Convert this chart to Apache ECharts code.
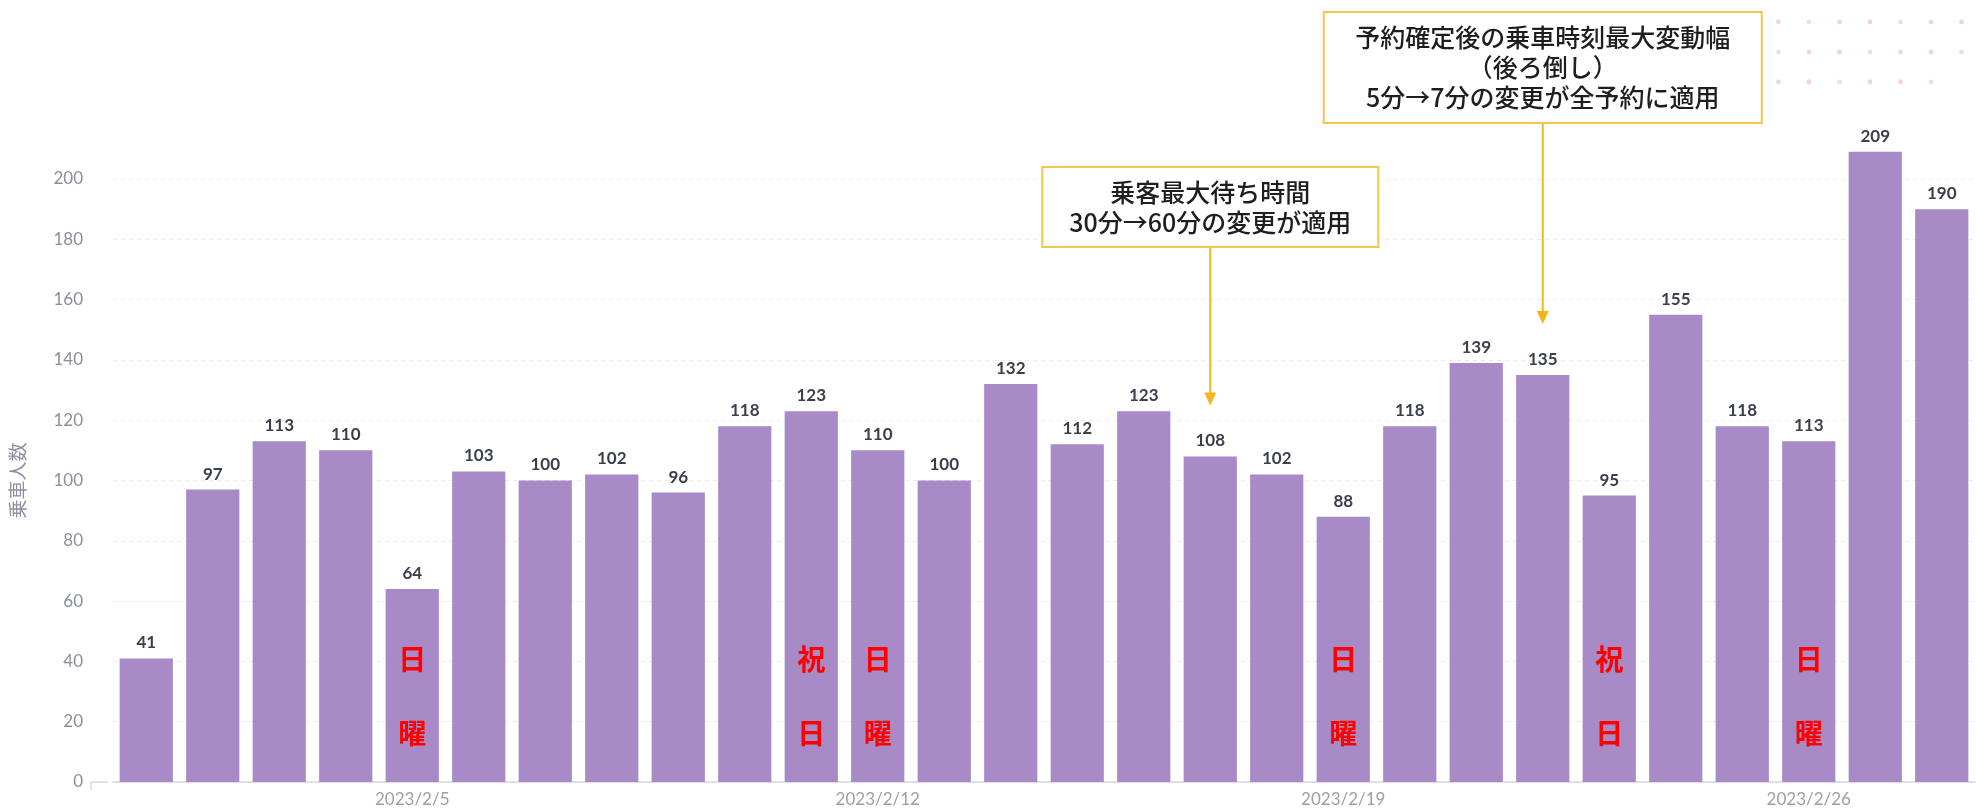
<!DOCTYPE html>
<html lang="ja">
<head>
<meta charset="utf-8">
<title>乗車人数</title>
<script src="https://cdn.jsdelivr.net/npm/echarts@6/dist/echarts.min.js"></script>
<style>
  html, body { margin: 0; padding: 0; background: #ffffff; }
  #chart { width: 1980px; height: 811px; }
</style>
</head>
<body>
<div id="chart"></div>
<script>
// Daily riders, February 2023
const categories = [
  '2023/2/1', '2023/2/2', '2023/2/3', '2023/2/4', '2023/2/5', '2023/2/6', '2023/2/7',
  '2023/2/8', '2023/2/9', '2023/2/10', '2023/2/11', '2023/2/12', '2023/2/13', '2023/2/14',
  '2023/2/15', '2023/2/16', '2023/2/17', '2023/2/18', '2023/2/19', '2023/2/20', '2023/2/21',
  '2023/2/22', '2023/2/23', '2023/2/24', '2023/2/25', '2023/2/26', '2023/2/27', '2023/2/28'
];
const riders = [
  41, 97, 113, 110, 64, 103, 100,
  102, 96, 118, 123, 110, 100, 132,
  112, 123, 108, 102, 88, 118, 139,
  135, 95, 155, 118, 113, 209, 190
];
// Axis labels shown only on these dates
const tickDates = ['2023/2/5', '2023/2/12', '2023/2/19', '2023/2/26'];

// Sundays and public holidays, marked in red inside the bar
const markDates = ['2023/2/5', '2023/2/11', '2023/2/12', '2023/2/19', '2023/2/23', '2023/2/26'];
const markTexts = ['日曜', '祝日', '日曜', '日曜', '祝日', '日曜'];

// Rule changes, pointed at the day they took effect
const noteDates = ['2023/2/17', '2023/2/22'];
const noteTexts = [
  ['乗客最大待ち時間', '30分→60分の変更が適用'],
  ['予約確定後の乗車時刻最大変動幅', '（後ろ倒し）', '5分→7分の変更が全予約に適用']
];

const chart = echarts.init(document.getElementById('chart'), null, { renderer: 'canvas' });

const NUM_FONT = 'Lato, "Noto Sans", sans-serif';
const JP_FONT = '"Noto Sans CJK JP", "Noto Sans", sans-serif';

const markData = categories.map(function (c) {
  const k = markDates.indexOf(c);
  if (k < 0) return '-';
  return { value: riders[categories.indexOf(c)], mark: markTexts[k] };
});

chart.setOption({
  animation: false,
  backgroundColor: '#ffffff',
  grid: { left: 108, right: 5, top: 179, bottom: 29, containLabel: false },
  xAxis: {
    type: 'category',
    data: categories,
    axisLine: { show: true, lineStyle: { color: '#d6d6de', width: 1.5 } },
    axisTick: { show: false },
    axisLabel: {
      interval: function (i, v) { return tickDates.indexOf(v) >= 0; },
      margin: 9,
      color: '#9c9ea9',
      fontFamily: NUM_FONT,
      fontSize: 17
    },
    splitLine: { show: false }
  },
  yAxis: {
    type: 'value',
    min: 0,
    max: 200,
    interval: 20,
    name: '乗車人数',
    nameLocation: 'middle',
    nameGap: 86,
    nameTextStyle: { color: '#8e91a0', fontFamily: JP_FONT, fontSize: 19 },
    axisLine: { show: false },
    axisTick: { show: false },
    axisLabel: { margin: 30, color: '#8b8e9d', fontFamily: NUM_FONT, fontSize: 17 },
    splitLine: { show: true, lineStyle: { color: '#e8e8ee', type: [4, 4], width: 1 } }
  },
  series: [
    {
      type: 'bar',
      data: riders,
      barCategoryGap: '20%',
      clip: false,
      itemStyle: { color: '#a78ac6' },
      label: {
        show: true,
        position: 'top',
        distance: 7,
        color: '#3b3f4c',
        fontFamily: NUM_FONT,
        fontWeight: 'bold',
        fontSize: 17
      },
      z: 2
    },
    {
      type: 'bar',
      data: markData,
      barGap: '-100%',
      barCategoryGap: '20%',
      clip: false,
      silent: true,
      itemStyle: { color: 'rgba(0,0,0,0)' },
      label: {
        show: true,
        position: 'insideBottom',
        distance: 12,
        formatter: function (p) {
          const t = p.data.mark;
          return '{m|' + t.charAt(0) + '}\n{m|' + t.charAt(1) + '}';
        },
        rich: {
          m: {
            color: '#ff0000',
            fontFamily: JP_FONT,
            fontWeight: 'bold',
            fontSize: 28,
            lineHeight: 74,
            align: 'center'
          }
        }
      },
      z: 3
    }
  ]
});

// Callout boxes with arrows down to the bar of the day
const noteBoxes = [
  { top: 167, width: 336, height: 80 },
  { top: 12, width: 438, height: 111 }
];
const ARROW = '#f5b61c';
const BOX_EDGE = '#f3c64b';

const graphics = [];

// dotted ornament in the upper-right corner
const dotColors = ['#eed6de', '#f1d3dc', '#ecdfe4'];
for (let r = 0; r < 3; r++) {
  const cols = r === 2 ? 7 : 8;
  for (let c = 0; c < cols; c++) {
    graphics.push({
      type: 'circle',
      shape: { cx: 1748 + c * 30.5, cy: 22 + r * 30, r: 2.4 },
      style: { fill: dotColors[(r + c) % 3] },
      z: 0, silent: true
    });
  }
}

noteDates.forEach(function (d, i) {
  const idx = categories.indexOf(d);
  const p = chart.convertToPixel({ seriesIndex: 0 }, [idx, riders[idx]]);
  const cx = p[0];
  const tipY = p[1] - 51;
  const b = noteBoxes[i];
  const bottom = b.top + b.height;
  graphics.push({
    type: 'line',
    shape: { x1: cx, y1: bottom, x2: cx, y2: tipY - 10 },
    style: { stroke: ARROW, lineWidth: 2 },
    z: 10
  });
  graphics.push({
    type: 'polygon',
    shape: { points: [[cx - 6, tipY - 13], [cx + 6, tipY - 13], [cx, tipY]] },
    style: { fill: ARROW },
    z: 10
  });
  graphics.push({
    type: 'rect',
    shape: { x: cx - b.width / 2, y: b.top, width: b.width, height: b.height },
    style: { fill: '#ffffff', stroke: BOX_EDGE, lineWidth: 2 },
    z: 11
  });
  graphics.push({
    type: 'text',
    x: cx,
    y: b.top + b.height / 2,
    style: {
      text: noteTexts[i].join('\n'),
      fill: '#1e1e1e',
      font: '500 25px ' + JP_FONT,
      lineHeight: 30,
      align: 'center',
      verticalAlign: 'middle'
    },
    z: 12
  });
});

// short lead-in of the baseline to the left of the first bar
const zero = chart.convertToPixel({ yAxisIndex: 0 }, 0);
graphics.push({
  type: 'line',
  shape: { x1: 91, y1: zero, x2: 108, y2: zero },
  style: { stroke: '#d6d6de', lineWidth: 1.5 },
  z: 1
});
graphics.push({
  type: 'line',
  shape: { x1: 91, y1: zero, x2: 91, y2: zero + 8 },
  style: { stroke: '#d6d6de', lineWidth: 1.5 },
  z: 1
});

chart.setOption({ graphic: graphics });
</script>
</body>
</html>
